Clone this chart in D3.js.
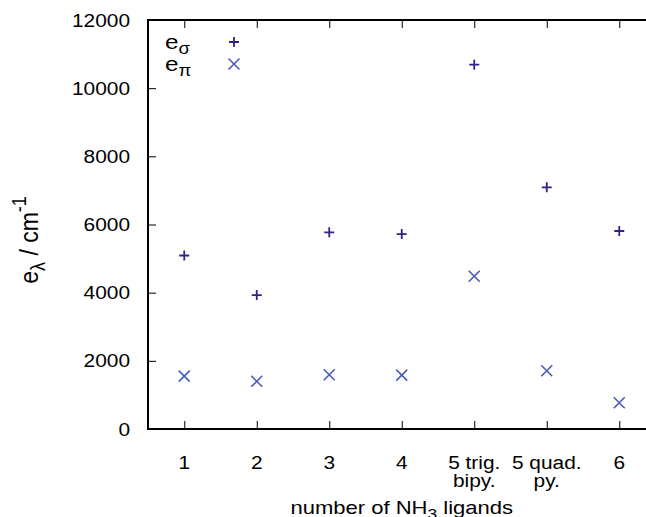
<!DOCTYPE html>
<html>
<head>
<meta charset="utf-8">
<script src="https://cdn.jsdelivr.net/npm/d3@7"></script>
<style>
  body { margin: 0; background: #fff; }
  text { font-family: "Liberation Sans", Arial, Helvetica, sans-serif; fill: #000; }
</style>
</head>
<body>
<script>
// data
let xValues = [1, 2, 3, 4, 5, 6, 7]
let xTickLabels = [["1"], ["2"], ["3"], ["4"], ["5 trig.", "bipy."], ["5 quad.", "py."], ["6"]]
let eSigma = [5090, 3930, 5770, 5720, 10690, 7090, 5810]
let ePi = [1550, 1400, 1590, 1580, 4480, 1710, 770]
let yTicks = [0, 2000, 4000, 6000, 8000, 10000, 12000]

let width = 646
let height = 517
let margin = { top: 20, left: 148, bottom: 88 }
let plotW = 507.5
let sx = 1.16 // text looks stretched horizontally
let sigmaColor = "#2e2586"
let piColor = "#4a5cb8"

let svg = d3.select("body")
  .append("svg")
  .attr("width", width)
  .attr("height", height)

let x = d3.scaleLinear().domain([0.5, 7.5]).range([margin.left, margin.left + plotW])
let y = d3.scaleLinear().domain([0, 12000]).range([height - margin.bottom, margin.top])

// frame
svg.append("rect")
  .attr("x", x(0.5)).attr("y", y(12000))
  .attr("width", x(7.5) - x(0.5)).attr("height", y(0) - y(12000))
  .attr("fill", "none").attr("stroke", "#000").attr("stroke-width", 2)

// axes, ticks drawn inward
svg.append("g")
  .attr("transform", `translate(0,${y(0)})`)
  .call(d3.axisBottom(x).tickValues(xValues).tickSizeInner(-8).tickSizeOuter(0).tickFormat(""))
svg.append("g")
  .attr("transform", `translate(0,${y(12000)})`)
  .call(d3.axisTop(x).tickValues(xValues).tickSizeInner(-8).tickSizeOuter(0).tickFormat(""))
svg.append("g")
  .attr("transform", `translate(${x(0.5)},0)`)
  .call(d3.axisLeft(y).tickValues(yTicks).tickSizeInner(-8).tickSizeOuter(0).tickFormat(""))
svg.append("g")
  .attr("transform", `translate(${x(7.5)},0)`)
  .call(d3.axisRight(y).tickValues(yTicks).tickSizeInner(-8).tickSizeOuter(0).tickFormat(""))

svg.selectAll(".domain").remove()
svg.selectAll(".tick line").attr("stroke", "#000").attr("stroke-width", 1)

// y tick labels
svg.append("g").selectAll("text")
  .data(yTicks)
  .join("text")
  .attr("transform", d => `translate(130,${y(d) + 6.5}) scale(${sx},1)`)
  .attr("text-anchor", "end")
  .style("font-size", "18px")
  .text(d => d)

// x tick labels (may have two lines)
let xl = svg.append("g").selectAll("g")
  .data(xValues)
  .join("g")
  .attr("transform", d => `translate(${x(d)},469) scale(${sx},1)`)
xl.selectAll("text")
  .data((d, i) => xTickLabels[i])
  .join("text")
  .attr("y", (d, i) => i * 18)
  .attr("text-anchor", "middle")
  .style("font-size", "18px")
  .text(d => d)

// axis titles
let xt = svg.append("text")
  .attr("transform", `translate(${(x(0.5) + x(7.5)) / 2},514) scale(${sx},1)`)
  .attr("text-anchor", "middle")
  .style("font-size", "19px")
xt.append("tspan").text("number of NH")
xt.append("tspan").attr("dy", 5).style("font-size", "15px").text("3")
xt.append("tspan").attr("dy", -5).text(" ligands")

let yt = svg.append("text")
  .attr("transform", `translate(38,240) scale(${sx},1) rotate(-90)`)
  .attr("text-anchor", "middle")
  .style("font-size", "23px")
yt.append("tspan").text("e")
yt.append("tspan").attr("dy", 6).style("font-size", "18px").text("λ")
yt.append("tspan").attr("dy", -6).text(" / cm")
yt.append("tspan").attr("dy", -10).style("font-size", "18px").text("-1")

// markers
svg.append("g").selectAll("path")
  .data(eSigma)
  .join("path")
  .attr("d", (d, i) => `M${x(xValues[i]) - 5},${y(d)}h10M${x(xValues[i])},${y(d) - 5}v10`)
  .attr("stroke", sigmaColor).attr("stroke-width", 1.8).attr("fill", "none")

svg.append("g").selectAll("path")
  .data(ePi)
  .join("path")
  .attr("d", (d, i) => {
    let cx = x(xValues[i]), cy = y(d), r = 5.5
    return `M${cx - r},${cy - r}L${cx + r},${cy + r}M${cx - r},${cy + r}L${cx + r},${cy - r}`
  })
  .attr("stroke", piColor).attr("stroke-width", 1.6).attr("fill", "none")

// legend
let legend = [
  { sub: "σ", color: sigmaColor, kind: "plus" },
  { sub: "π", color: piColor, kind: "cross" },
]
let lg = svg.append("g").selectAll("g")
  .data(legend)
  .join("g")
  .attr("transform", (d, i) => `translate(165,${49 + i * 22})`)
lg.each(function (d) {
  let g = d3.select(this)
  let t = g.append("text").attr("transform", `scale(${sx},1)`).style("font-size", "21px")
  t.append("tspan").text("e")
  t.append("tspan").attr("dy", 5).style("font-size", "16px").text(d.sub)
  let cx = 69, cy = -7
  g.append("path")
    .attr("d", d.kind == "plus"
      ? `M${cx - 5},${cy}h10M${cx},${cy - 5}v10`
      : `M${cx - 5.5},${cy - 5.5}l11,11M${cx - 5.5},${cy + 5.5}l11,-11`)
    .attr("stroke", d.color).attr("stroke-width", d.kind == "plus" ? 1.8 : 1.6).attr("fill", "none")
})
</script>
</body>
</html>
